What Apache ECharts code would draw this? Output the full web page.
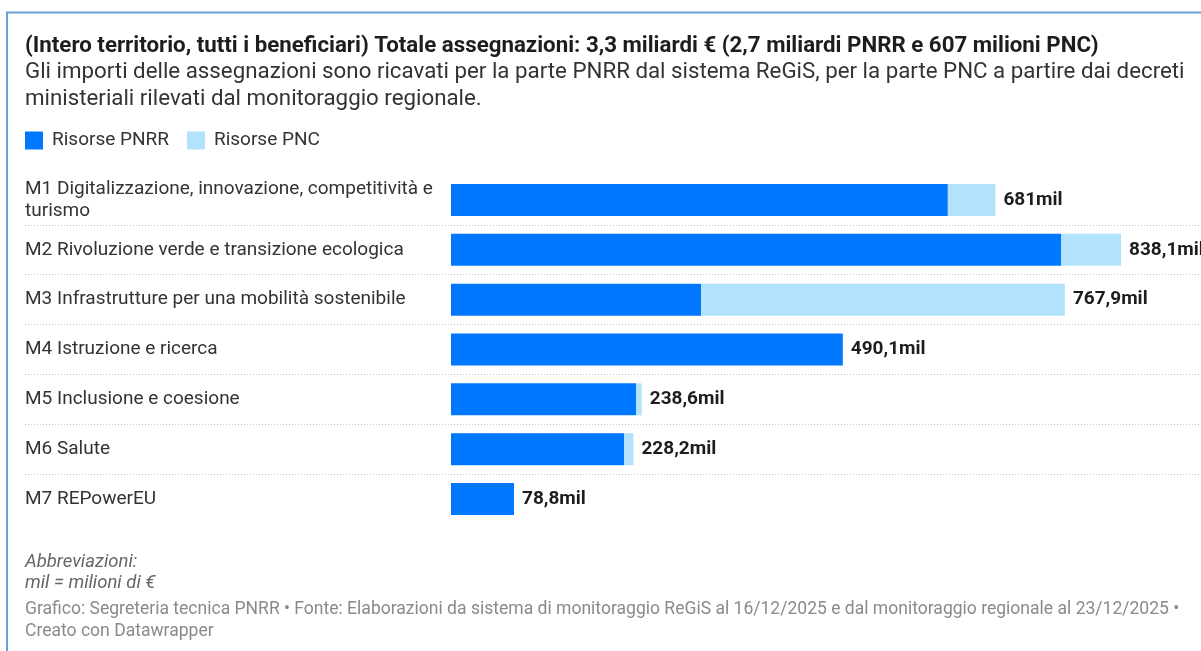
<!DOCTYPE html>
<html>
<head>
<meta charset="utf-8">
<script src="https://cdn.jsdelivr.net/npm/echarts@6/dist/echarts.min.js"></script>
<style>
html,body{margin:0;padding:0;background:#fff;}
#chart{width:1201px;height:651px;}
</style>
</head>
<body>
<div id="chart"></div>
<script>
const categories = [
  "M1 Digitalizzazione, innovazione, competitività e turismo",
  "M2 Rivoluzione verde e transizione ecologica",
  "M3 Infrastrutture per una mobilità sostenibile",
  "M4 Istruzione e ricerca",
  "M5 Inclusione e coesione",
  "M6 Salute",
  "M7 REPowerEU"
];
const pnrr = [621.5, 763.1, 312.9, 490.1, 231.6, 216.4, 78.8];
const pnc  = [59.5, 75.0, 455.0, 0, 7.0, 11.8, 0];
const totals = [681, 838.1, 767.9, 490.1, 238.6, 228.2, 78.8];
const seriesNames = ["Risorse PNRR", "Risorse PNC"];

const FONT = "Roboto";
const chart = echarts.init(document.getElementById('chart'), null, {renderer: 'canvas'});

function fmt(v) {
  return String(v).replace('.', ',') + 'mil';
}
// wrap long category labels at the last space before the limit
function wrapLabel(v) {
  const maxChars = 50;
  if (v.length <= maxChars) return v;
  const cut = v.lastIndexOf(' ', maxChars);
  return v.slice(0, cut) + '\n' + v.slice(cut + 1);
}

const H = 651;
const gridTop = 175, gridBottom = 127;
const rowH = (H - gridTop - gridBottom) / categories.length;

const option = {
  animation: false,
  backgroundColor: '#ffffff',
  textStyle: {fontFamily: FONT},
  graphic: [{
    type: 'rect',
    shape: {x: 7, y: 12.5, width: 1300, height: 800},
    style: {fill: 'none', stroke: '#6a9fd8', lineWidth: 2},
    silent: true
  }],
  title: [
    {
      text: "(Intero territorio, tutti i beneficiari) Totale assegnazioni: 3,3 miliardi € (2,7 miliardi PNRR e 607 milioni PNC)",
      left: 20, top: 28,
      textStyle: {fontFamily: FONT, fontSize: 22.3, fontWeight: 'bold', color: '#1d1d1d', lineHeight: 26}
    },
    {
      text: "Gli importi delle assegnazioni sono ricavati per la parte PNRR dal sistema ReGiS, per la parte PNC a partire dai decreti\nministeriali rilevati dal monitoraggio regionale.",
      left: 20, top: 54,
      textStyle: {fontFamily: FONT, fontSize: 22.3, fontWeight: 'normal', color: '#333333', lineHeight: 27}
    },
    {
      text: "Abbreviazioni:\nmil = milioni di €",
      left: 20, top: 547,
      textStyle: {fontFamily: FONT, fontSize: 18.5, fontWeight: 'normal', fontStyle: 'italic', color: '#666666', lineHeight: 21}
    },
    {
      text: "Grafico: Segreteria tecnica PNRR • Fonte: Elaborazioni da sistema di monitoraggio ReGiS al 16/12/2025 e dal monitoraggio regionale al 23/12/2025 •\nCreato con Datawrapper",
      left: 20, top: 594,
      textStyle: {fontFamily: FONT, fontSize: 17.55, fontWeight: 'normal', color: '#8a8a8a', lineHeight: 22}
    }
  ],
  legend: {
    left: 20, top: 126,
    icon: 'rect',
    itemWidth: 18, itemHeight: 18,
    itemGap: 18,
    data: seriesNames,
    textStyle: {fontFamily: FONT, fontSize: 19, color: '#333333', padding: [0, 0, 0, 4]}
  },
  grid: [
    // separator grid: spans from the first to the last inner row boundary
    {left: 25, right: 0, top: gridTop + rowH, bottom: gridBottom + rowH, containLabel: false},
    {left: 451, right: 80, top: gridTop, bottom: gridBottom, containLabel: false}
  ],
  xAxis: [
    {gridIndex: 0, type: 'value', min: 0, max: 1, show: false},
    {gridIndex: 1, type: 'value', min: 0, max: 838.1, show: false}
  ],
  yAxis: [
    {
      gridIndex: 0, type: 'value', min: 1, max: categories.length - 1, interval: 1,
      axisLine: {show: false}, axisTick: {show: false}, axisLabel: {show: false},
      splitLine: {show: true, lineStyle: {type: [1, 2], color: '#c8c8c8', width: 1}}
    },
    {
      gridIndex: 1, type: 'category', data: categories, inverse: true,
      axisLine: {show: false}, axisTick: {show: false},
      splitLine: {show: false},
      axisLabel: {
        margin: 426, align: 'left',
        fontFamily: FONT, fontSize: 19, color: '#333333', lineHeight: 22,
        formatter: wrapLabel
      }
    }
  ],
  series: [
    {
      name: seriesNames[0], type: 'bar', stack: 'tot',
      xAxisIndex: 1, yAxisIndex: 1,
      data: pnrr, barWidth: 32,
      itemStyle: {color: '#0077ff'},
      emphasis: {disabled: true}
    },
    {
      name: seriesNames[1], type: 'bar', stack: 'tot',
      xAxisIndex: 1, yAxisIndex: 1,
      data: pnc, barWidth: 32,
      itemStyle: {color: '#b3e2fc'},
      emphasis: {disabled: true},
      label: {
        show: true, position: 'right', distance: 8,
        fontFamily: FONT, fontSize: 19, fontWeight: 'bold', color: '#1d1d1d',
        formatter: p => fmt(totals[p.dataIndex])
      }
    }
  ]
};
chart.setOption(option);
</script>
</body>
</html>
